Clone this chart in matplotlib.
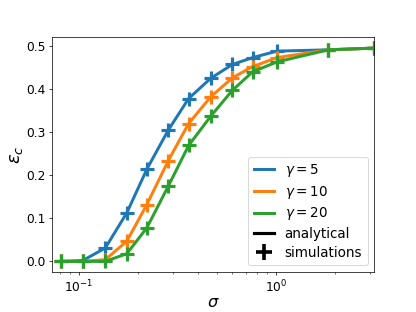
import numpy as np
import matplotlib
matplotlib.use("Agg")
import matplotlib.pyplot as plt
from matplotlib.lines import Line2D

# sigma values of the points (log-spaced in the picture)
sigma = [0.081, 0.1045, 0.136, 0.175, 0.221, 0.284, 0.36, 0.466, 0.60, 0.76, 1.01, 1.84, 3.13]

eps_g5 = [0.0, 0.002, 0.031, 0.113, 0.214, 0.305, 0.378, 0.425, 0.457, 0.473, 0.488, 0.491, 0.495]
eps_g10 = [0.0, 0.0, 0.004, 0.047, 0.132, 0.234, 0.32, 0.382, 0.426, 0.452, 0.473, 0.491, 0.495]
eps_g20 = [0.0, 0.0, 0.0, 0.018, 0.078, 0.175, 0.269, 0.337, 0.397, 0.44, 0.463, 0.491, 0.495]

gammas = [5, 10, 20]
series = [eps_g5, eps_g10, eps_g20]
colors = ['tab:blue', 'tab:orange', 'tab:green']

fig = plt.figure(figsize=(6.4, 4.8), dpi=65)
ax = fig.add_subplot(111)
fig.subplots_adjust(bottom=0.128)

handles = []
for g, eps, c in zip(gammas, series, colors):
    ax.plot(sigma, eps, color=c, lw=3.3)
    ax.plot(sigma, eps, '+', color=c, ms=16, mew=3.5)
    handles.append(Line2D([], [], color=c, lw=3.3, label=r'$\gamma = %d$' % g))

handles.append(Line2D([], [], color='k', lw=3.5, label='analytical'))
handles.append(Line2D([], [], color='k', ls='', marker='+', ms=17, mew=4, label='simulations'))

ax.set_xscale('log')
ax.set_xlim(0.073, 3.15)
ax.set_xlabel(r'$\sigma$', fontsize=18, labelpad=0)
ax.set_ylabel(r'$\varepsilon_c$', fontsize=20, labelpad=1)
ax.tick_params(labelsize=13.5)
ax.legend(handles=handles, loc='lower right', fontsize=15, labelspacing=0.35,
          handlelength=1.5)

fig.savefig('out.png', dpi=65)
